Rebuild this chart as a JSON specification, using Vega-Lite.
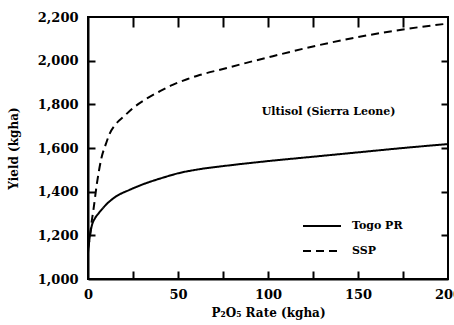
{
  "$schema": "https://vega.github.io/schema/vega-lite/v6.json",
  "width": 360,
  "height": 262,
  "autosize": {"type": "none"},
  "padding": {"left": 88, "top": 17, "right": 6, "bottom": 46},
  "config": {"view": {"stroke": "black", "strokeWidth": 2}},
  "data": {"values": [
      {"rate": 0, "yield": 1120, "series": "Togo PR"},
      {"rate": 1, "yield": 1195, "series": "Togo PR"},
      {"rate": 2, "yield": 1240, "series": "Togo PR"},
      {"rate": 4, "yield": 1280, "series": "Togo PR"},
      {"rate": 6, "yield": 1302, "series": "Togo PR"},
      {"rate": 10, "yield": 1340, "series": "Togo PR"},
      {"rate": 15, "yield": 1375, "series": "Togo PR"},
      {"rate": 23, "yield": 1408, "series": "Togo PR"},
      {"rate": 30, "yield": 1432, "series": "Togo PR"},
      {"rate": 42, "yield": 1465, "series": "Togo PR"},
      {"rate": 50, "yield": 1484, "series": "Togo PR"},
      {"rate": 62, "yield": 1503, "series": "Togo PR"},
      {"rate": 75, "yield": 1517, "series": "Togo PR"},
      {"rate": 100, "yield": 1540, "series": "Togo PR"},
      {"rate": 125, "yield": 1560, "series": "Togo PR"},
      {"rate": 150, "yield": 1580, "series": "Togo PR"},
      {"rate": 175, "yield": 1600, "series": "Togo PR"},
      {"rate": 200, "yield": 1618, "series": "Togo PR"},
      {"rate": 0, "yield": 1140, "series": "SSP"},
      {"rate": 1, "yield": 1190, "series": "SSP"},
      {"rate": 2, "yield": 1260, "series": "SSP"},
      {"rate": 3, "yield": 1316, "series": "SSP"},
      {"rate": 5, "yield": 1440, "series": "SSP"},
      {"rate": 7.5, "yield": 1555, "series": "SSP"},
      {"rate": 10, "yield": 1620, "series": "SSP"},
      {"rate": 12, "yield": 1665, "series": "SSP"},
      {"rate": 15, "yield": 1705, "series": "SSP"},
      {"rate": 20, "yield": 1745, "series": "SSP"},
      {"rate": 25, "yield": 1783, "series": "SSP"},
      {"rate": 33, "yield": 1828, "series": "SSP"},
      {"rate": 40, "yield": 1860, "series": "SSP"},
      {"rate": 47, "yield": 1889, "series": "SSP"},
      {"rate": 55, "yield": 1915, "series": "SSP"},
      {"rate": 62, "yield": 1934, "series": "SSP"},
      {"rate": 75, "yield": 1962, "series": "SSP"},
      {"rate": 88, "yield": 1990, "series": "SSP"},
      {"rate": 100, "yield": 2015, "series": "SSP"},
      {"rate": 125, "yield": 2065, "series": "SSP"},
      {"rate": 150, "yield": 2108, "series": "SSP"},
      {"rate": 175, "yield": 2143, "series": "SSP"},
      {"rate": 200, "yield": 2170, "series": "SSP"},
      {"rate": 96.5, "yield": 1765, "label": "Ultisol (Sierra Leone)"}
  ]},
  "layer": [
    {
      "transform": [{"filter": "datum.series != null"}],
      "mark": {"type": "line", "interpolate": "monotone", "strokeWidth": 2, "color": "black"},
      "encoding": {
        "x": {
          "field": "rate", "type": "quantitative",
          "scale": {"domain": [0, 200], "nice": false},
          "axis": {
            "orient": "bottom", "title": "P₂O₅ Rate (kgha)",
            "values": [0, 50, 100, 150, 200], "ticks": false, "grid": false,
            "domainColor": "black", "domainWidth": 2,
            "labelFont": "DejaVu Serif", "labelFontWeight": "bold", "labelFontSize": 13, "labelColor": "black",
            "titleFont": "DejaVu Serif", "titleFontWeight": "bold", "titleFontSize": 12, "titleColor": "black",
            "labelPadding": 9, "titlePadding": 6, "labelFlush": false
          }
        },
        "y": {
          "field": "yield", "type": "quantitative",
          "scale": {"domain": [1000, 2200], "nice": false, "zero": false},
          "axis": {
            "orient": "left", "title": "Yield (kgha)", "format": ",d",
            "values": [1000, 1200, 1400, 1600, 1800, 2000, 2200], "ticks": false, "grid": false,
            "domainColor": "black", "domainWidth": 2,
            "labelFont": "DejaVu Serif", "labelFontWeight": "bold", "labelFontSize": 13, "labelColor": "black",
            "titleFont": "DejaVu Serif", "titleFontWeight": "bold", "titleFontSize": 12, "titleColor": "black",
            "labelPadding": 10, "titlePadding": 17
          }
        },
        "strokeDash": {
          "field": "series", "type": "nominal",
          "scale": {"domain": ["Togo PR", "SSP"], "range": [[1, 0], [8, 5]]},
          "legend": {
            "orient": "none", "legendX": 214, "legendY": 189, "title": null,
            "symbolType": "stroke", "symbolSize": 1444, "symbolStrokeWidth": 2,
            "symbolStrokeColor": "black", "labelFont": "DejaVu Serif", "labelFontWeight": "bold",
            "labelFontSize": 11, "labelColor": "black", "labelOffset": 10, "rowPadding": -10, "padding": 0
          }
        }
      }
    },
    {
      "transform": [{"filter": "datum.label != null"}],
      "mark": {"type": "text", "align": "left", "baseline": "middle", "font": "DejaVu Serif", "fontWeight": "bold", "fontSize": 11, "color": "black"},
      "encoding": {
        "x": {
          "field": "rate", "type": "quantitative",
          "scale": {"domain": [0, 200], "nice": false},
          "axis": {"orient": "top", "offset": -262, "title": null, "labels": false, "domain": false,
            "values": [25, 50, 75, 100, 125, 150, 175], "tickSize": 8, "tickColor": "black", "tickWidth": 2}
        },
        "y": {
          "field": "yield", "type": "quantitative",
          "scale": {"domain": [1000, 2200], "nice": false, "zero": false},
          "axis": {"orient": "right", "offset": -360, "title": null, "labels": false, "domain": false,
            "values": [1200, 1400, 1600, 1800, 2000], "tickSize": 7, "tickColor": "black", "tickWidth": 2}
        },
        "text": {"field": "label"}
      }
    },
    {
      "transform": [{"filter": "datum.label != null"}],
      "mark": {"type": "point", "opacity": 0},
      "encoding": {
        "x": {
          "field": "rate", "type": "quantitative",
          "scale": {"domain": [0, 200], "nice": false},
          "axis": {"orient": "bottom", "offset": -262, "title": null, "labels": false, "domain": false, "grid": false,
            "values": [25, 50, 75, 100, 125, 150, 175], "tickSize": 10, "tickColor": "black", "tickWidth": 2}
        },
        "y": {
          "field": "yield", "type": "quantitative",
          "scale": {"domain": [1000, 2200], "nice": false, "zero": false},
          "axis": {"orient": "left", "offset": -360, "title": null, "labels": false, "domain": false, "grid": false,
            "values": [1200, 1400, 1600, 1800, 2000], "tickSize": 7, "tickColor": "black", "tickWidth": 2}
        }
      }
    }
  ],
  "resolve": {"axis": {"x": "independent", "y": "independent"}}
}
